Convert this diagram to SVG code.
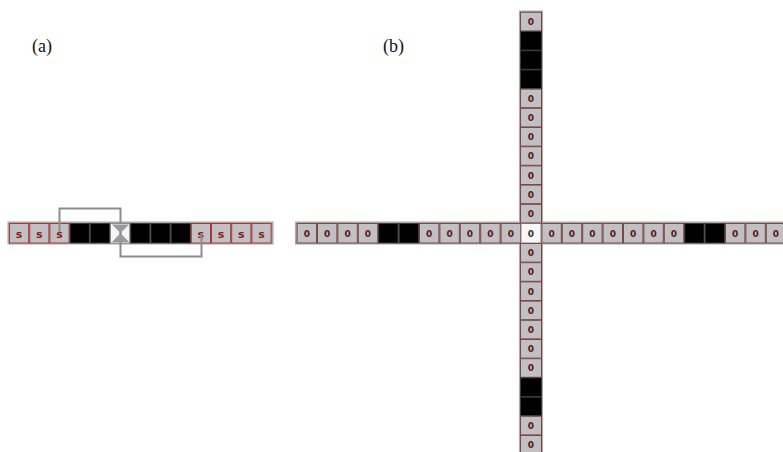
<svg xmlns="http://www.w3.org/2000/svg" width="783" height="452" viewBox="0 0 783 452">
<style>
.bg{fill:#ffffff}
.strip{fill:#a8a8a8}
.c{fill:#c2c0c2;stroke:#7a4848;stroke-width:1}
.ca{fill:#c2c0c2;stroke:#a83838;stroke-width:1}
.b{fill:#000000;stroke:#3a3a3a;stroke-width:1}
.w{fill:#f6f6f6;stroke:#8a8a8a;stroke-width:1}
.t{font-family:"DejaVu Sans","Liberation Sans",sans-serif;font-weight:bold;font-size:9px;fill:#5a1616;text-anchor:middle}
.ts{font-family:"DejaVu Sans","Liberation Sans",sans-serif;font-weight:bold;font-size:11px;fill:#8a1c1c;text-anchor:middle}
.tw{font-family:"DejaVu Sans","Liberation Sans",sans-serif;font-weight:bold;font-size:9px;fill:#333333;text-anchor:middle}
.lab{font-family:"Liberation Serif","Times New Roman",serif;font-size:18px;fill:#111111}
.con{fill:none;stroke:#8c8c8c;stroke-width:2}
</style>
<rect class="bg" x="0" y="0" width="783" height="452"/>
<text class="lab" x="32" y="52">(a)</text>
<text class="lab" x="383" y="52">(b)</text>

<g id="panel-a">
<rect class="strip" x="7.5" y="221.5" width="266" height="23"/>
<g id="a0"><rect class="ca" x="9.5" y="223.5" width="19.2" height="19.5"/><text class="ts" x="19.1" y="237.5">s</text></g>
<g id="a1"><rect class="ca" x="29.7" y="223.5" width="19.2" height="19.5"/><text class="ts" x="39.3" y="237.5">s</text></g>
<g id="a2"><rect class="ca" x="49.9" y="223.5" width="19.2" height="19.5"/><text class="ts" x="59.5" y="237.5">s</text></g>
<g id="a3"><rect class="b" x="70.1" y="223.5" width="19.2" height="19.5"/></g>
<g id="a4"><rect class="b" x="90.3" y="223.5" width="19.2" height="19.5"/></g>
<g id="a5"><rect class="w" x="110.5" y="223.5" width="19.2" height="19.5"/>
<polygon points="112,224.5 129,224.5 120.5,233" fill="#9a9a9a"/>
<polygon points="112,242 129,242 120.5,233" fill="#9a9a9a"/>
<circle cx="120.5" cy="233" r="1.3" fill="#6a88c8"/></g>
<g id="a6"><rect class="b" x="130.7" y="223.5" width="19.2" height="19.5"/></g>
<g id="a7"><rect class="b" x="150.9" y="223.5" width="19.2" height="19.5"/></g>
<g id="a8"><rect class="b" x="171.1" y="223.5" width="19.2" height="19.5"/></g>
<g id="a9"><rect class="ca" x="191.3" y="223.5" width="19.2" height="19.5"/><text class="ts" x="200.9" y="237.5">s</text></g>
<g id="a10"><rect class="ca" x="211.5" y="223.5" width="19.2" height="19.5"/><text class="ts" x="221.1" y="237.5">s</text></g>
<g id="a11"><rect class="ca" x="231.7" y="223.5" width="19.2" height="19.5"/><text class="ts" x="241.3" y="237.5">s</text></g>
<g id="a12"><rect class="ca" x="251.9" y="223.5" width="19.2" height="19.5"/><text class="ts" x="261.5" y="237.5">s</text></g>
</g>

<g id="connectors">
<path class="con" d="M59.5,232 V208.5 H120.5 V224"/>
<path class="con" d="M120.5,242 V256.5 H201.5 V234"/>
</g>

<g id="panel-b">
<rect class="strip" x="295" y="221.5" width="490" height="23"/>
<rect class="strip" x="519" y="10.5" width="24" height="445"/>
<g id="h-11"><rect class="c" x="297.1" y="223.5" width="19.4" height="19.5"/><text class="t" x="306.8" y="236.5">0</text></g>
<g id="h-10"><rect class="c" x="317.5" y="223.5" width="19.4" height="19.5"/><text class="t" x="327.2" y="236.5">0</text></g>
<g id="h-9"><rect class="c" x="337.9" y="223.5" width="19.4" height="19.5"/><text class="t" x="347.6" y="236.5">0</text></g>
<g id="h-8"><rect class="c" x="358.3" y="223.5" width="19.4" height="19.5"/><text class="t" x="368" y="236.5">0</text></g>
<g id="h-7"><rect class="b" x="378.7" y="223.5" width="19.4" height="19.5"/></g>
<g id="h-6"><rect class="b" x="399.1" y="223.5" width="19.4" height="19.5"/></g>
<g id="h-5"><rect class="c" x="419.5" y="223.5" width="19.4" height="19.5"/><text class="t" x="429.2" y="236.5">0</text></g>
<g id="h-4"><rect class="c" x="439.9" y="223.5" width="19.4" height="19.5"/><text class="t" x="449.6" y="236.5">0</text></g>
<g id="h-3"><rect class="c" x="460.3" y="223.5" width="19.4" height="19.5"/><text class="t" x="470" y="236.5">0</text></g>
<g id="h-2"><rect class="c" x="480.7" y="223.5" width="19.4" height="19.5"/><text class="t" x="490.4" y="236.5">0</text></g>
<g id="h-1"><rect class="c" x="501.1" y="223.5" width="19.4" height="19.5"/><text class="t" x="510.8" y="236.5">0</text></g>
<g id="center"><rect class="w" x="521" y="223.5" width="20" height="19.5"/><text class="tw" x="531" y="236.5">0</text></g>
<g id="h1"><rect class="c" x="541.9" y="223.5" width="19.4" height="19.5"/><text class="t" x="551.6" y="236.5">0</text></g>
<g id="h2"><rect class="c" x="562.3" y="223.5" width="19.4" height="19.5"/><text class="t" x="572" y="236.5">0</text></g>
<g id="h3"><rect class="c" x="582.7" y="223.5" width="19.4" height="19.5"/><text class="t" x="592.4" y="236.5">0</text></g>
<g id="h4"><rect class="c" x="603.1" y="223.5" width="19.4" height="19.5"/><text class="t" x="612.8" y="236.5">0</text></g>
<g id="h5"><rect class="c" x="623.5" y="223.5" width="19.4" height="19.5"/><text class="t" x="633.2" y="236.5">0</text></g>
<g id="h6"><rect class="c" x="643.9" y="223.5" width="19.4" height="19.5"/><text class="t" x="653.6" y="236.5">0</text></g>
<g id="h7"><rect class="c" x="664.3" y="223.5" width="19.4" height="19.5"/><text class="t" x="674" y="236.5">0</text></g>
<g id="h8"><rect class="b" x="684.7" y="223.5" width="19.4" height="19.5"/></g>
<g id="h9"><rect class="b" x="705.1" y="223.5" width="19.4" height="19.5"/></g>
<g id="h10"><rect class="c" x="725.5" y="223.5" width="19.4" height="19.5"/><text class="t" x="735.2" y="236.5">0</text></g>
<g id="h11"><rect class="c" x="745.9" y="223.5" width="19.4" height="19.5"/><text class="t" x="755.6" y="236.5">0</text></g>
<g id="h12"><rect class="c" x="766.3" y="223.5" width="19.4" height="19.5"/><text class="t" x="776" y="236.5">0</text></g>
<g id="v-11"><rect class="c" x="520.5" y="12.3" width="21" height="18.6"/><text class="t" x="531" y="25">0</text></g>
<g id="v-10"><rect class="b" x="520.5" y="31.5" width="21" height="18.6"/></g>
<g id="v-9"><rect class="b" x="520.5" y="50.7" width="21" height="18.6"/></g>
<g id="v-8"><rect class="b" x="520.5" y="69.9" width="21" height="18.6"/></g>
<g id="v-7"><rect class="c" x="520.5" y="89.1" width="21" height="18.6"/><text class="t" x="531" y="101.8">0</text></g>
<g id="v-6"><rect class="c" x="520.5" y="108.3" width="21" height="18.6"/><text class="t" x="531" y="121">0</text></g>
<g id="v-5"><rect class="c" x="520.5" y="127.5" width="21" height="18.6"/><text class="t" x="531" y="140.2">0</text></g>
<g id="v-4"><rect class="c" x="520.5" y="146.7" width="21" height="18.6"/><text class="t" x="531" y="159.4">0</text></g>
<g id="v-3"><rect class="c" x="520.5" y="165.9" width="21" height="18.6"/><text class="t" x="531" y="178.6">0</text></g>
<g id="v-2"><rect class="c" x="520.5" y="185.1" width="21" height="18.6"/><text class="t" x="531" y="197.8">0</text></g>
<g id="v-1"><rect class="c" x="520.5" y="204.3" width="21" height="18.6"/><text class="t" x="531" y="217">0</text></g>
<g id="v1"><rect class="c" x="520.5" y="243.5" width="21" height="18.6"/><text class="t" x="531" y="256.2">0</text></g>
<g id="v2"><rect class="c" x="520.5" y="262.7" width="21" height="18.6"/><text class="t" x="531" y="275.4">0</text></g>
<g id="v3"><rect class="c" x="520.5" y="281.9" width="21" height="18.6"/><text class="t" x="531" y="294.6">0</text></g>
<g id="v4"><rect class="c" x="520.5" y="301.1" width="21" height="18.6"/><text class="t" x="531" y="313.8">0</text></g>
<g id="v5"><rect class="c" x="520.5" y="320.3" width="21" height="18.6"/><text class="t" x="531" y="333">0</text></g>
<g id="v6"><rect class="c" x="520.5" y="339.5" width="21" height="18.6"/><text class="t" x="531" y="352.2">0</text></g>
<g id="v7"><rect class="c" x="520.5" y="358.7" width="21" height="18.6"/><text class="t" x="531" y="371.4">0</text></g>
<g id="v8"><rect class="b" x="520.5" y="377.9" width="21" height="18.6"/></g>
<g id="v9"><rect class="b" x="520.5" y="397.1" width="21" height="18.6"/></g>
<g id="v10"><rect class="c" x="520.5" y="416.3" width="21" height="18.6"/><text class="t" x="531" y="429">0</text></g>
<g id="v11"><rect class="c" x="520.5" y="435.5" width="21" height="18.6"/><text class="t" x="531" y="448.2">0</text></g>
</g>
</svg>
